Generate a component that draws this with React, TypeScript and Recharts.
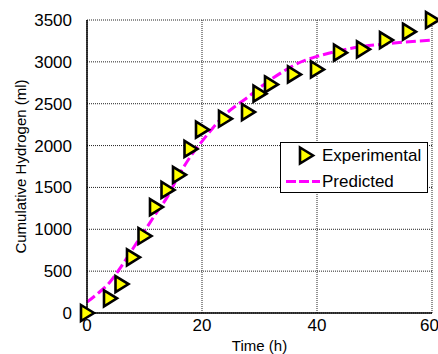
import React from 'react';
import { ComposedChart, Scatter, Line, XAxis, YAxis, CartesianGrid, Legend } from 'recharts';

const expTime = [0, 4, 6, 8, 10, 12, 14, 16, 18, 20, 24, 28, 30, 32, 36, 40, 44, 48, 52, 56, 60];
const expHydrogen = [0, 175, 345, 665, 920, 1265, 1470, 1650, 1960, 2190, 2320, 2400, 2620, 2730, 2850, 2910, 3110, 3150, 3260, 3360, 3500];

const predTime = [0, 2, 4, 6, 8, 10, 12, 14, 16, 18, 20, 22, 24, 26, 28, 30, 32, 34, 36, 38, 40, 44, 48, 52, 56, 60];
const predHydrogen = [130, 240, 370, 560, 770, 980, 1190, 1390, 1650, 1870, 2050, 2220, 2370, 2480, 2580, 2690, 2790, 2880, 2960, 3020, 3065, 3135, 3185, 3215, 3240, 3260];

const xTicks = [0, 20, 40, 60];
const yTicks = [0, 500, 1000, 1500, 2000, 2500, 3000, 3500];

const expData = expTime.map((t, i) => ({ t, h: expHydrogen[i] }));
const predData = predTime.map((t, i) => ({ t, p: predHydrogen[i] }));

const FONT = '"Liberation Sans", Arial, sans-serif';

const Triangle = (props: any) => {
  const { cx, cy } = props;
  if (cx == null || cy == null) return null;
  const d = `M${cx - 6},${cy - 8} L${cx + 7},${cy} L${cx - 6},${cy + 8} Z`;
  return <path d={d} fill="#FFFF00" stroke="#000" strokeWidth={2.6} strokeLinejoin="miter" />;
};

const YTitle = (props: any) => {
  const vb = props.viewBox || {};
  const cx = 20;
  const cy = (vb.y ?? 20) + (vb.height ?? 293) / 2;
  return (
    <text x={cx} y={cy} transform={`rotate(-90, ${cx}, ${cy})`} textAnchor="middle" dominantBaseline="central" fontFamily={FONT} fontSize={15} fill="#000">
      Cumulative Hydrogen (ml)
    </text>
  );
};

const LegendBox = () => (
  <div style={{ width: 148, height: 51, background: '#fff', border: '1px solid #000', boxSizing: 'border-box', position: 'relative' }}>
    <svg width={146} height={49} style={{ position: 'absolute', left: 0, top: 0 }}>
      <path d="M19,4.5 L32,12.5 L19,20.5 Z" fill="#FFFF00" stroke="#000" strokeWidth={2.6} />
      <text x={41} y={12.5} dominantBaseline="central" fontFamily={FONT} fontSize={17} fill="#000">Experimental</text>
      <line x1={5} y1={38.5} x2={39} y2={38.5} stroke="#FF00FF" strokeWidth={3} strokeDasharray="10 3" />
      <text x={41} y={38.5} dominantBaseline="central" fontFamily={FONT} fontSize={17} fill="#000">Predicted</text>
    </svg>
  </div>
);

export default function App() {
  return (
    <div style={{ position: 'absolute', left: 0, top: 0, width: 438, height: 354, background: '#fff' }}>
      <ComposedChart width={438} height={354} margin={{ top: 20, right: 6, bottom: 0, left: 0 }}>
        <CartesianGrid stroke="#222" strokeDasharray="1 1" strokeWidth={1} />
        <XAxis
          type="number"
          dataKey="t"
          domain={[0, 60]}
          ticks={xTicks}
          height={41}
          tickLine={false}
          tickSize={4}
          tickMargin={2}
          axisLine={{ stroke: '#000', strokeWidth: 1.5 }}
          tick={{ fontFamily: FONT, fontSize: 17, fill: '#000' }}
          label={{ value: 'Time (h)', position: 'insideBottom', offset: 3, fontFamily: FONT, fontSize: 15, fill: '#000' }}
        />
        <YAxis
          type="number"
          domain={[0, 3500]}
          ticks={yTicks}
          width={87}
          tickLine={false}
          tickSize={6}
          tickMargin={9}
          axisLine={{ stroke: '#000', strokeWidth: 1.5 }}
          tick={{ fontFamily: FONT, fontSize: 17, fill: '#000' }}
          label={<YTitle />}
        />
        <Scatter data={expData} dataKey="h" shape={<Triangle />} isAnimationActive={false} />
        <Line data={predData} dataKey="p" type="monotone" stroke="#FF00FF" strokeWidth={3} strokeDasharray="10 4" dot={false} activeDot={false} isAnimationActive={false} />
        <Legend
          layout="vertical"
          align="center"
          verticalAlign="middle"
          content={() => <LegendBox />}
          wrapperStyle={{ position: 'absolute', left: 280, top: 142, width: 148, height: 51 }}
        />
      </ComposedChart>
    </div>
  );
}
